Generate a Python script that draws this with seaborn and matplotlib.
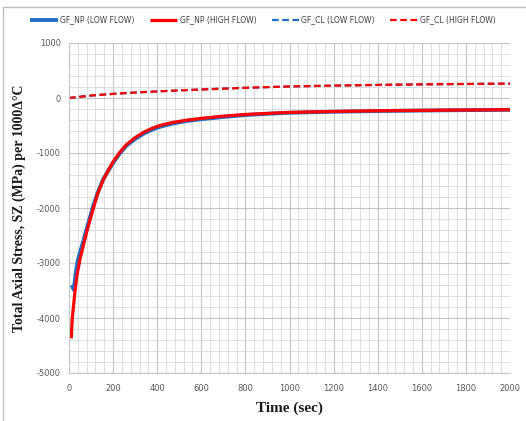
import numpy as np
import pandas as pd
import seaborn as sns
import matplotlib
matplotlib.use("Agg")
import matplotlib.pyplot as plt
from matplotlib.ticker import MultipleLocator
from matplotlib.lines import Line2D

# ---- data ----
t_np_low = [12, 22, 30, 40, 52, 65, 80, 95, 110, 130, 155, 180, 200, 230, 260, 300, 340, 380, 420, 470, 530,
            600, 700, 800, 900, 1000, 1200, 1400, 1600, 1800, 2000]
np_low = [-3400, -3490, -3200, -2950, -2780, -2600, -2380, -2170, -1960, -1720, -1480, -1310, -1180, -1010, -870,
          -745, -645, -570, -515, -465, -420, -385, -345, -310, -287, -268, -250, -237, -228, -220, -215]

t_np_high = [10, 15, 20, 28, 35, 50, 65, 80, 95, 110, 130, 155, 180, 200, 230, 260, 300, 340, 380, 420, 470, 530,
             600, 700, 800, 900, 1000, 1200, 1400, 1600, 1800, 2000]
np_high = [-4370, -4000, -3800, -3480, -3250, -2930, -2680, -2440, -2220, -2010, -1740, -1490, -1300, -1160, -990,
           -850, -720, -620, -545, -490, -445, -405, -370, -330, -300, -280, -262, -245, -232, -225, -218, -213]

t_cl = [0, 100, 200, 300, 400, 500, 600, 800, 1000, 1200, 1400, 1600, 1800, 2000]
cl_low = [0, 45, 75, 100, 120, 138, 155, 185, 210, 225, 238, 248, 255, 262]
cl_high = [0, 45, 75, 100, 120, 138, 155, 185, 210, 225, 238, 248, 255, 262]

series_names = ["GF_NP (LOW FLOW)", "GF_NP (HIGH FLOW)", "GF_CL (LOW FLOW)", "GF_CL (HIGH FLOW)"]

frames = [
    pd.DataFrame({"t": t_np_low, "v": np_low, "s": series_names[0]}),
    pd.DataFrame({"t": t_np_high, "v": np_high, "s": series_names[1]}),
    pd.DataFrame({"t": t_cl, "v": cl_low, "s": series_names[2]}),
    pd.DataFrame({"t": t_cl, "v": cl_high, "s": series_names[3]}),
]
df = pd.concat(frames, ignore_index=True)

BLUE = "#1f6fc6"
RED = "#ff0000"
colors = {series_names[0]: BLUE, series_names[1]: RED, series_names[2]: BLUE, series_names[3]: RED}
styles = {series_names[0]: (0, ()), series_names[1]: (0, ()), series_names[2]: (0, (3, 1.6)), series_names[3]: (0, (3, 1.6))}
widths = {series_names[0]: 2.8, series_names[1]: 2.3, series_names[2]: 1.6, series_names[3]: 1.6}

sns.set_theme(style="white")
plt.rcParams["axes.unicode_minus"] = False
fig = plt.figure(figsize=(5.26, 4.21), dpi=100)
ax = fig.add_axes([69/526, 1-373/421, (510-69)/526, (373-43)/421])

for name in series_names:
    sub = df[df["s"] == name]
    sns.lineplot(data=sub, x="t", y="v", ax=ax, color=colors[name],
                 linewidth=widths[name], linestyle=styles[name], estimator=None, sort=False,
                 legend=False)

ax.set_xlim(0, 2000)
ax.set_ylim(-5000, 1000)
ax.xaxis.set_major_locator(MultipleLocator(200))
ax.xaxis.set_minor_locator(MultipleLocator(40))
ax.yaxis.set_major_locator(MultipleLocator(1000))
ax.yaxis.set_minor_locator(MultipleLocator(200))
ax.grid(which="major", color="#c4c4c4", linewidth=0.8)
ax.grid(which="minor", color="#dcdcdc", linewidth=0.7)
ax.set_axisbelow(True)
for sp in ["top", "right"]:
    ax.spines[sp].set_visible(False)
for sp in ["left", "bottom"]:
    ax.spines[sp].set_color("#c4c4c4")
    ax.spines[sp].set_linewidth(0.8)

ax.tick_params(axis="both", which="major", labelsize=6, labelcolor="#595959", colors="#bfbfbf", length=3, width=0.8, pad=4)
ax.tick_params(axis="x", which="major", direction="out", length=4)
ax.tick_params(axis="y", which="major", length=0, pad=6)
ax.tick_params(which="minor", length=0)
for lbl in ax.get_xticklabels() + ax.get_yticklabels():
    lbl.set_color("#595959")

ax.set_xlabel("Time (sec)", fontfamily="Liberation Serif", fontweight="bold", fontsize=11, color="#1a1a1a", labelpad=6)
ax.set_ylabel("Total Axial Stress, SZ (MPa) per 1000Δ°C", fontfamily="Liberation Serif", fontweight="bold",
              fontsize=10, color="#1a1a1a", labelpad=10)
ax.yaxis.set_label_coords(-0.098, 0.5)

handles = [Line2D([0], [0], color=colors[n], linewidth=widths[n], linestyle=styles[n]) for n in series_names]
fig.legend(handles, series_names, loc="center", bbox_to_anchor=(0.5, 1-20/421), ncol=4, frameon=False,
           fontsize=5.5, handlelength=3.6, handletextpad=0.3, columnspacing=2.0, labelcolor="#404040")

# outer frame (top and left edge, as in the screenshot)
fig.add_artist(Line2D([3/526, 1], [1-7/421, 1-7/421], transform=fig.transFigure, color="#bfbfbf", linewidth=1))
fig.add_artist(Line2D([3/526, 3/526], [0, 1-7/421], transform=fig.transFigure, color="#bfbfbf", linewidth=1))

fig.savefig("out.png", dpi=100, facecolor="white")
